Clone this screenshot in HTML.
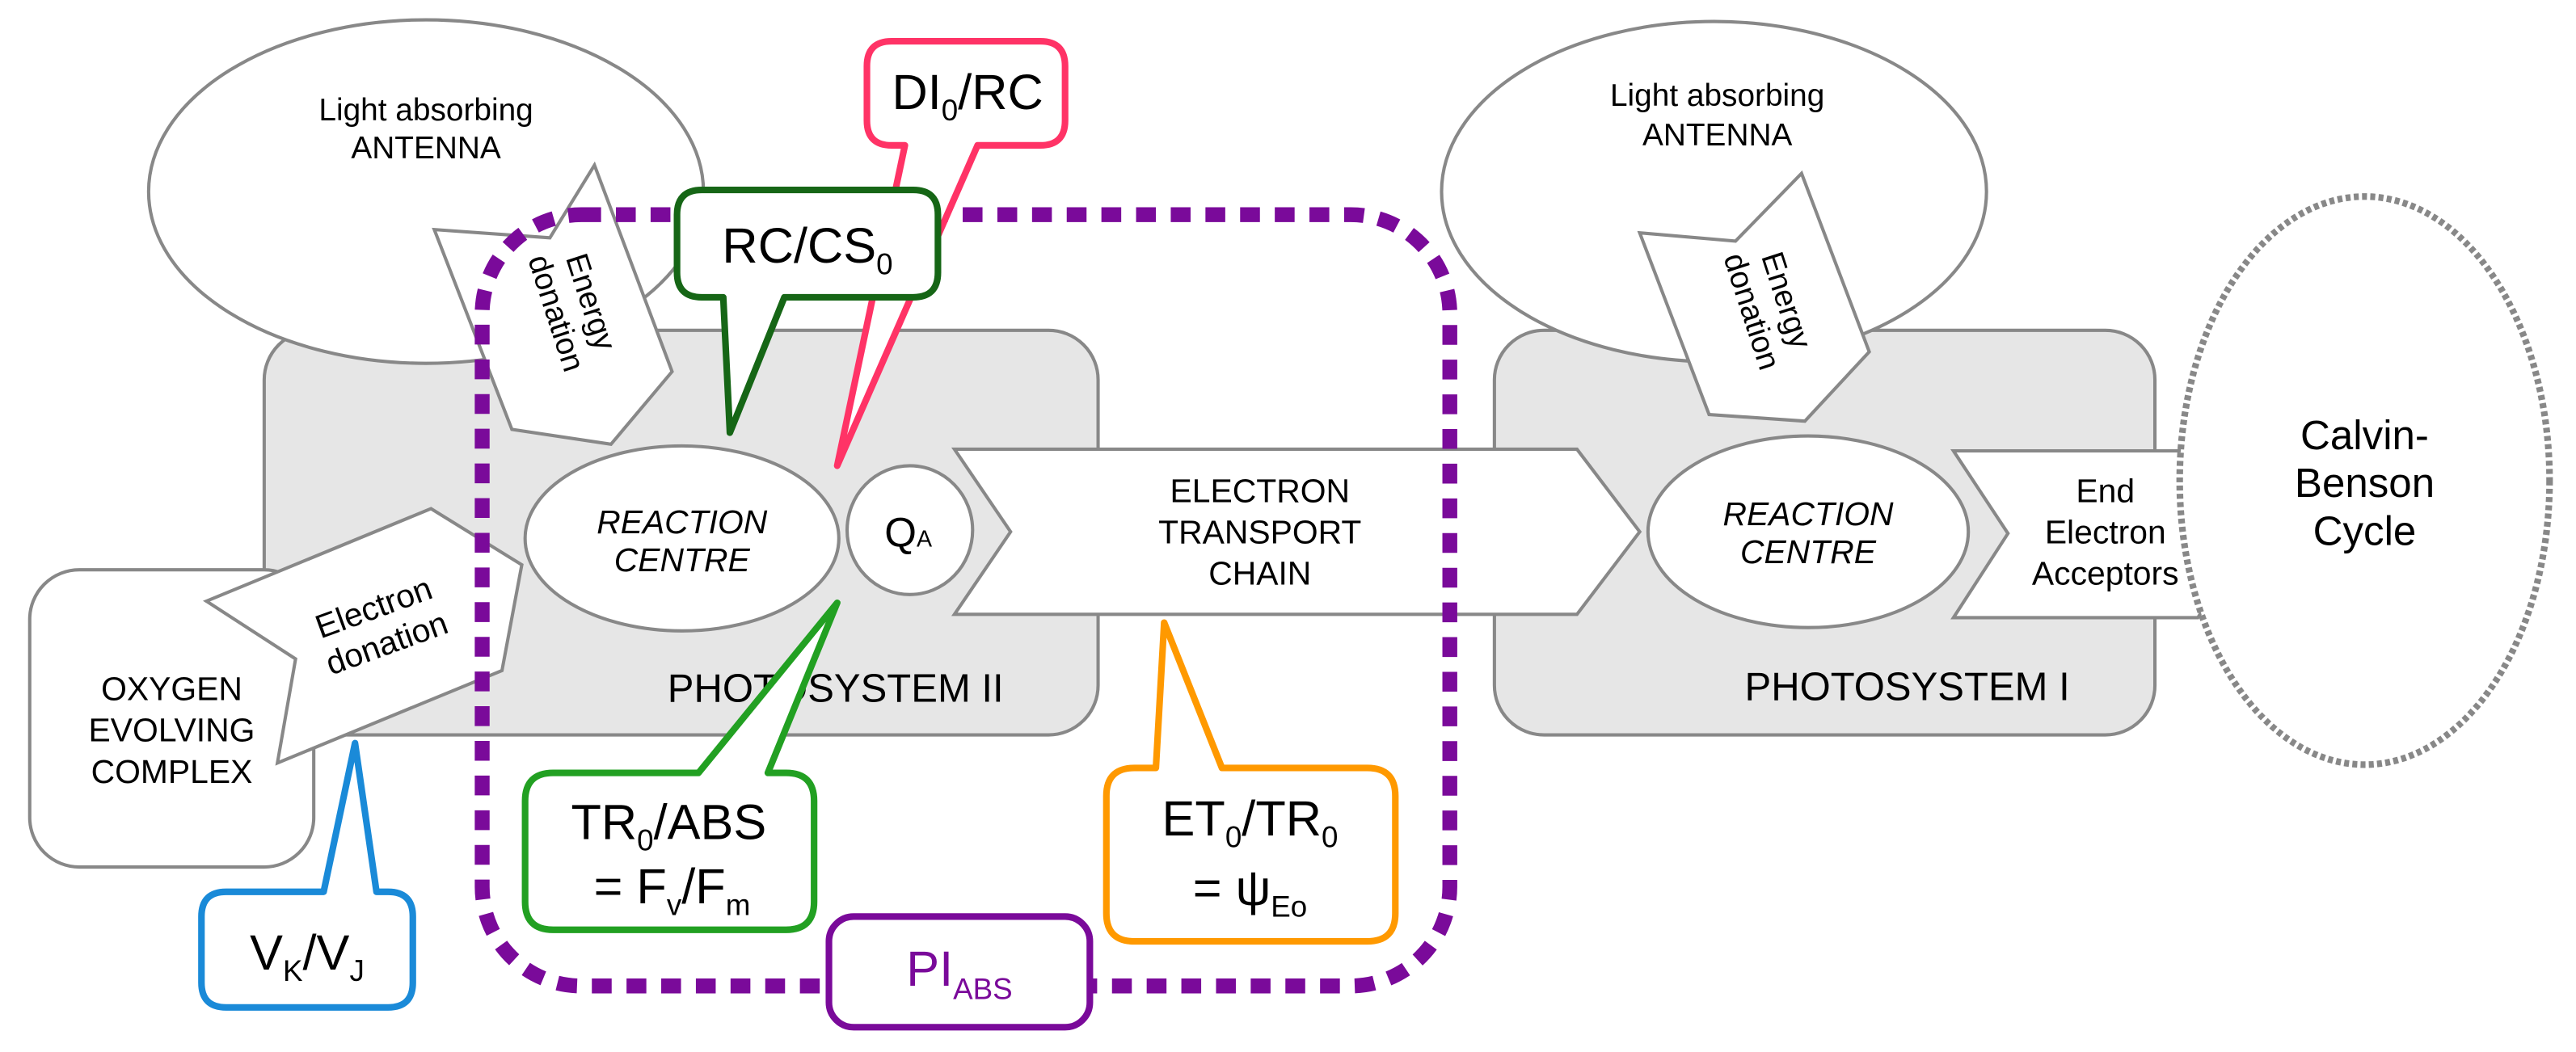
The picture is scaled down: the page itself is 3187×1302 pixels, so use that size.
<!DOCTYPE html>
<html><head><meta charset="utf-8"><style>
html,body{margin:0;padding:0;background:#fff;}
svg{display:block;}
text{font-family:"Liberation Sans",Arial,sans-serif;}
</style></head><body>
<svg width="3187" height="1302" viewBox="0 0 1560 637" preserveAspectRatio="none" xmlns="http://www.w3.org/2000/svg">
<g stroke="#888" stroke-width="2" fill="#fff">
<rect x="160" y="200" width="505" height="245" rx="30" fill="#e6e6e6"/>
<rect x="905" y="200" width="400" height="245" rx="30" fill="#e6e6e6"/>
<ellipse cx="258" cy="116" rx="168" ry="104"/>
<ellipse cx="1038" cy="116" rx="165" ry="103"/>
<polygon points="263,139 333,144 360,100 407,225 370,269 310,260"/>
<polygon points="993,141 1051,146 1091,105 1132,213 1093,255 1035,251"/>
<rect x="18" y="345" width="172" height="180" rx="30"/>
<polygon points="125,364 261,308 316,342 304,406 168,462 179,399"/>
<ellipse cx="413" cy="326" rx="95" ry="56"/>
<ellipse cx="551" cy="321" rx="38" ry="39"/>
<ellipse cx="1095" cy="322" rx="97" ry="58"/>
<polygon points="578,272 955,272 993,322 955,372 578,372 612,322"/>
<polygon points="1183,273 1331,273 1364,323 1331,374 1183,374 1216,323"/>
</g>
<ellipse cx="1432" cy="291" rx="112" ry="172" fill="#fff" stroke="#888" stroke-width="4" stroke-dasharray="3 2"/>

<g font-size="19" text-anchor="middle" fill="#000">
<text x="258" y="73">Light absorbing</text>
<text x="258" y="96">ANTENNA</text>
<text x="1040" y="64">Light absorbing</text>
<text x="1040" y="88">ANTENNA</text>
<text transform="translate(348,186) rotate(72)" font-size="19"><tspan x="0" y="-4">Energy</tspan><tspan x="0" y="18">donation</tspan></text>
<text transform="translate(1072,185) rotate(72)" font-size="19"><tspan x="0" y="-4">Energy</tspan><tspan x="0" y="18">donation</tspan></text>
<text transform="translate(230,378) rotate(-20)" font-size="20"><tspan x="0" y="-4">Electron</tspan><tspan x="0" y="19">donation</tspan></text>
<text x="104" y="424" font-size="20">OXYGEN</text>
<text x="104" y="449" font-size="20">EVOLVING</text>
<text x="104" y="474" font-size="20">COMPLEX</text>
<text x="413" y="323" font-style="italic" font-size="20">REACTION</text>
<text x="413" y="346" font-style="italic" font-size="20">CENTRE</text>
<text x="1095" y="318" font-style="italic" font-size="20">REACTION</text>
<text x="1095" y="341" font-style="italic" font-size="20">CENTRE</text>
<text x="550" y="331" font-size="25">Q<tspan font-size="14">A</tspan></text>
<text x="763" y="304" font-size="20">ELECTRON</text>
<text x="763" y="329" font-size="20">TRANSPORT</text>
<text x="763" y="354" font-size="20">CHAIN</text>
<text x="1275" y="304" font-size="20">End</text>
<text x="1275" y="329" font-size="20">Electron</text>
<text x="1275" y="354" font-size="20">Acceptors</text>
<text x="1432" y="272" font-size="25">Calvin-</text>
<text x="1432" y="301" font-size="25">Benson</text>
<text x="1432" y="330" font-size="25">Cycle</text>
<text x="506" y="425" font-size="24">PHOTOSYSTEM II</text>
<text x="1155" y="424" font-size="24">PHOTOSYSTEM I</text>
</g>

<rect x="292" y="130" width="586" height="467" rx="60" fill="none" stroke="#7a0a9a" stroke-width="9" stroke-dasharray="12 9"/>

<g fill="#fff" stroke-width="4" stroke-linejoin="round">
<path d="M540,25 L630,25 Q645,25 645,40 L645,73 Q645,88 630,88 L592,88 L507,282 L548,88 L540,88 Q525,88 525,73 L525,40 Q525,25 540,25 Z" stroke="#ff3366"/>
<path d="M425,115 L553,115 Q568,115 568,130 L568,165 Q568,180 553,180 L475,180 L442,262 L438,180 L425,180 Q410,180 410,165 L410,130 Q410,115 425,115 Z" stroke="#166616"/>
<path d="M335,468 L423,468 L507,365 L465,468 L476,468 Q493,468 493,485 L493,546 Q493,563 476,563 L335,563 Q318,563 318,546 L318,485 Q318,468 335,468 Z" stroke="#22a022"/>
<path d="M687,465 L700,465 L705,377 L740,465 L828,465 Q845,465 845,482 L845,553 Q845,570 828,570 L687,570 Q670,570 670,553 L670,482 Q670,465 687,465 Z" stroke="#ff9900"/>
<path d="M137,540 L196,540 L215,450 L228,540 L235,540 Q250,540 250,555 L250,595 Q250,610 235,610 L137,610 Q122,610 122,595 L122,555 Q122,540 137,540 Z" stroke="#1a8ad8"/>
<rect x="502" y="555" width="158" height="67" rx="15" stroke="#7a0a9a"/>
</g>
<g font-size="30" text-anchor="middle" fill="#000">
<text x="586" y="66">DI<tspan font-size="18" dy="7">0</tspan><tspan dy="-7">/RC</tspan></text>
<text x="489" y="159">RC/CS<tspan font-size="18" dy="7">0</tspan></text>
<text x="405" y="508">TR<tspan font-size="18" dy="7">0</tspan><tspan dy="-7">/ABS</tspan></text>
<text x="407" y="547">= F<tspan font-size="18" dy="7">v</tspan><tspan dy="-7">/F</tspan><tspan font-size="18" dy="7">m</tspan></text>
<text x="757" y="506">ET<tspan font-size="18" dy="7">0</tspan><tspan dy="-7">/TR</tspan><tspan font-size="18" dy="7">0</tspan></text>
<text x="757" y="548">= ψ<tspan font-size="18" dy="7">Eo</tspan></text>
<text x="186" y="587">V<tspan font-size="18" dy="7">K</tspan><tspan dy="-7">/V</tspan><tspan font-size="18" dy="7">J</tspan></text>
<text x="581" y="597" fill="#7a0a9a">PI<tspan font-size="18" dy="8">ABS</tspan></text>
</g>
</svg>
</body></html>
